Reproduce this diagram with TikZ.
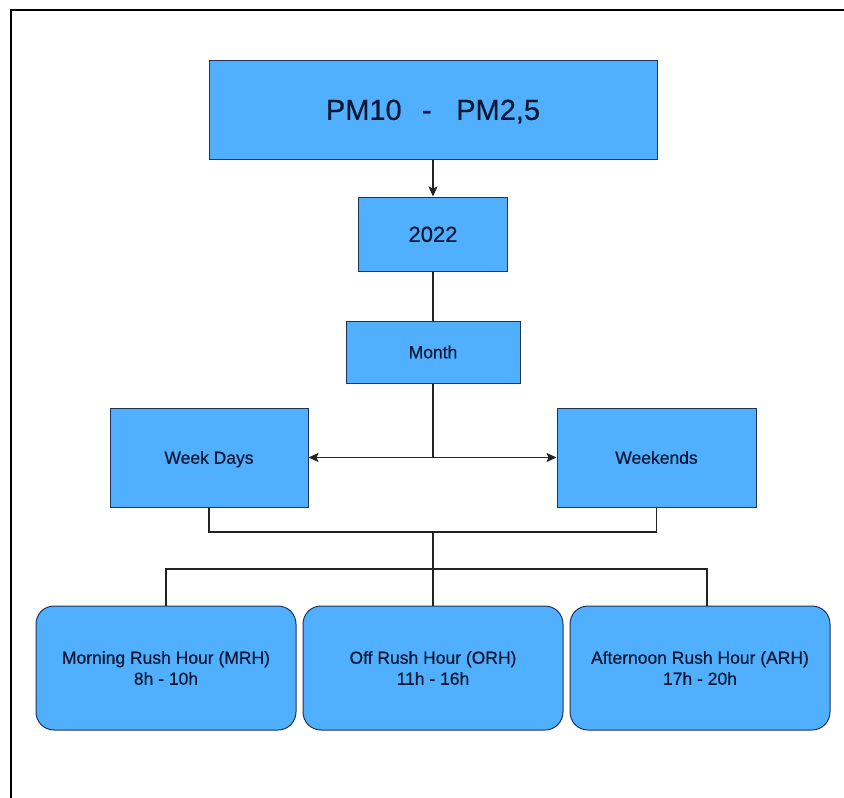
\documentclass[tikz,border=0pt]{standalone}
\usepackage{fontspec}
\setmainfont{Liberation Sans}[FakeBold=0.6]
\newfontfamily\heavy{Liberation Sans}[FakeBold=0.6]
\usetikzlibrary{arrows.meta,calc}
\definecolor{boxfill}{RGB}{80,176,255}
\definecolor{boxline}{RGB}{32,52,82}
\definecolor{txt}{RGB}{12,24,52}
\definecolor{conn}{RGB}{35,35,35}
\tikzset{
  box/.style={draw=boxline, fill=boxfill, line width=1pt, inner sep=0pt, text=txt, align=center},
  oneline/.style={text height=#1, text depth=0pt},
  rbox/.style={box, rounded corners=18pt, minimum width=260pt, minimum height=124pt},
  conn/.style={draw=conn, line width=1.3pt},
  arr/.style={conn, -{Stealth[length=10pt,width=9pt,inset=2pt]}},
  smallfont/.style={font=\heavy\fontsize{17.5}{21}\selectfont}
}
\begin{document}
\begin{tikzpicture}[x=1pt,y=-1pt]
\useasboundingbox (0,0) rectangle (844,798);
% frame
\draw[line width=1.2pt, black] (11,798) -- (11,10) -- (844,10);

\node[box, oneline=20.8pt, minimum width=448pt, minimum height=99pt, font=\heavy\fontsize{29}{34}\selectfont] (top) at (433,109.5) {PM10\hspace{0.7em}-\hspace{0.85em}PM2,5};
\node[box, oneline=15.8pt, minimum width=149pt, minimum height=74pt, font=\heavy\fontsize{22}{26}\selectfont] (yr) at (433,234) {2022};
\node[box, oneline=12.5pt, smallfont, minimum width=174pt, minimum height=62pt] (month) at (433,352) {Month};
\node[box, oneline=12.5pt, smallfont, minimum width=198pt, minimum height=99pt] (wd) at (209,457.5) {Week Days};
\node[box, oneline=12.5pt, smallfont, minimum width=199pt, minimum height=99pt] (we) at (656.5,457.5) {Weekends};

\node[rbox, smallfont] (b1) at (166,668) {Morning Rush Hour (MRH)\\8h - 10h};
\node[rbox, smallfont] (b2) at (433,668) {Off Rush Hour (ORH)\\11h - 16h};
\node[rbox, smallfont] (b3) at (700,668) {Afternoon Rush Hour (ARH)\\17h - 20h};

\coordinate (j1) at (433,457.5);
\coordinate (j2) at (433,532);
\coordinate (j3) at (433,569);
\coordinate (b3top) at ($(b3.north)+(7,0)$);

\draw[arr] (top.south) -- (yr.north);
\draw[conn] (yr.south) -- (month.north);
\draw[conn] (month.south) -- (j1);
\draw[arr] (j1) -- (wd.east);
\draw[arr] (j1) -- (we.west);
\draw[conn] (wd.south) |- (j2) -| (we.south);
\draw[conn] (j2) -- (j3);
\draw[conn] (b1.north) |- (j3) -| (b3top);
\draw[conn] (j3) -- (b2.north);
\end{tikzpicture}
\end{document}
